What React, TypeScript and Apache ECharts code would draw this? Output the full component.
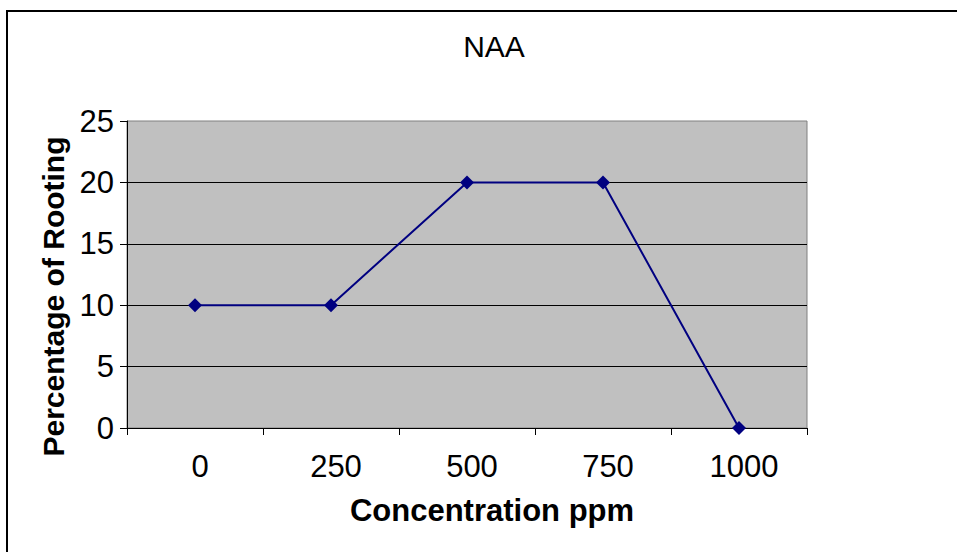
import React, { useEffect, useRef } from "react";
import * as echarts from "echarts";

const categories = ["0", "250", "500", "750", "1000"];
const rootingValues = [10, 10, 20, 20, 0];
const titleText = "NAA";
const xAxisName = "Concentration ppm";
const yAxisName = "Percentage of Rooting";

const FONT = "'Liberation Sans', Arial, sans-serif";

export default function App() {
  const ref = useRef<HTMLDivElement>(null);
  useEffect(() => {
    if (!ref.current) return;
    const chart = echarts.init(ref.current, undefined, { renderer: "svg" });
    chart.setOption({
      animation: false,
      backgroundColor: "#ffffff",
      textStyle: { fontFamily: FONT, color: "#000" },
      title: {
        text: titleText,
        left: 489,
        top: 26,
        textAlign: "center",
        textStyle: { fontFamily: FONT, fontSize: 30, fontWeight: "normal", color: "#000" },
      },
      grid: {
        left: 127,
        right: 150,
        top: 121,
        bottom: 124,
        show: true,
        backgroundColor: "#C0C0C0",
        borderColor: "#808080",
        borderWidth: 1,
      },
      xAxis: {
        type: "category",
        data: categories,
        boundaryGap: true,
        name: xAxisName,
        nameLocation: "middle",
        nameGap: 67,
        nameTextStyle: {
          fontFamily: FONT,
          fontSize: 31,
          fontWeight: "bold",
          color: "#000",
          padding: [0, 0, 0, 50],
        },
        axisLine: { show: true, lineStyle: { color: "#000", width: 1 } },
        axisTick: { show: true, length: 7, interval: 0, lineStyle: { color: "#000" } },
        axisLabel: {
          fontFamily: FONT,
          fontSize: 31,
          color: "#000",
          margin: 23,
          interval: 0,
          padding: [0, 0, 0, 10],
        },
        splitLine: { show: false },
      },
      yAxis: {
        type: "value",
        min: 0,
        max: 25,
        interval: 5,
        name: yAxisName,
        nameLocation: "middle",
        nameGap: 55,
        nameTextStyle: {
          fontFamily: FONT,
          fontSize: 30,
          fontWeight: "bold",
          color: "#000",
          padding: [0, 44, 0, 0],
        },
        axisLine: { show: true, lineStyle: { color: "#000", width: 1 } },
        axisTick: { show: true, length: 7, lineStyle: { color: "#000" } },
        axisLabel: { fontFamily: FONT, fontSize: 31, color: "#000", margin: 13 },
        splitLine: {
          show: true,
          showMaxLine: false,
          lineStyle: { color: "#000", width: 1 },
        },
      },
      graphic: [
        { type: "rect", shape: { x: 6, y: 10, width: 951, height: 2 }, style: { fill: "#000" } },
        { type: "rect", shape: { x: 6, y: 10, width: 2, height: 542 }, style: { fill: "#000" } },
      ],
      series: [
        {
          type: "line",
          data: rootingValues,
          symbol: "diamond",
          symbolSize: 14,
          lineStyle: { color: "#000080", width: 2 },
          itemStyle: { color: "#000080" },
        },
      ],
    });
    return () => chart.dispose();
  }, []);
  return (
    <div
      ref={ref}
      style={{ position: "absolute", left: 0, top: 0, width: 957, height: 552 }}
    />
  );
}
